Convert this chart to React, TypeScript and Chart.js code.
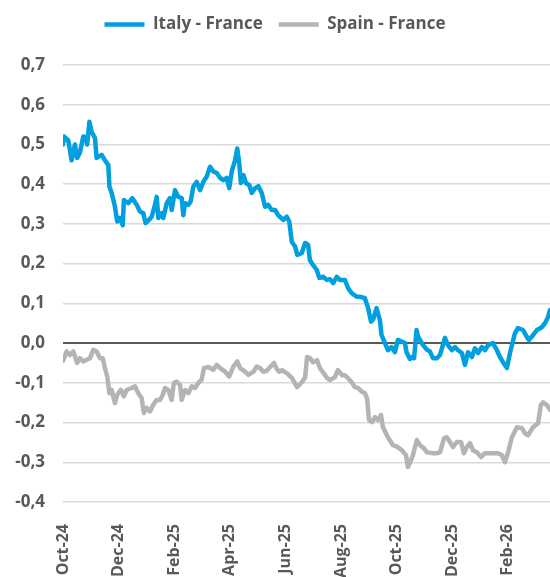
import React, { useEffect, useRef } from 'react';
import { Chart, registerables } from 'chart.js';

Chart.register(...registerables);

// x positions are months elapsed since 1 Oct 2024
const tickMonths = [0, 2, 4, 6, 8, 10, 12, 14, 16];
const tickLabels = ['Oct-24', 'Dec-24', 'Feb-25', 'Apr-25', 'Jun-25', 'Aug-25', 'Oct-25', 'Dec-25', 'Feb-26'];

const italyMonths = [
  0.00, 0.04, 0.19, 0.31, 0.43, 0.51, 0.61, 0.73, 0.83, 0.87, 0.95, 1.03, 1.15, 1.21, 1.39, 1.51, 1.63, 1.67,
  1.75, 1.87, 1.95, 2.05, 2.15, 2.19, 2.35, 2.49, 2.65, 2.77, 2.89, 2.97, 3.09, 3.19, 3.31, 3.37, 3.43, 3.55,
  3.61, 3.73, 3.85, 3.91, 4.03, 4.15, 4.27, 4.33, 4.39, 4.51, 4.59, 4.69, 4.81, 4.93, 5.05, 5.17, 5.29, 5.41,
  5.53, 5.65, 5.77, 5.89, 5.98, 6.07, 6.19, 6.27, 6.34, 6.40, 6.49, 6.58, 6.70, 6.79, 6.91, 7.03, 7.15, 7.27,
  7.38, 7.51, 7.63, 7.74, 7.92, 8.05, 8.14, 8.23, 8.35, 8.43, 8.59, 8.71, 8.82, 8.88, 9.00, 9.13, 9.22, 9.36,
  9.49, 9.60, 9.72, 9.85, 9.96, 10.14, 10.26, 10.38, 10.56, 10.74, 10.86, 10.97, 11.08, 11.16, 11.28, 11.40,
  11.46, 11.51, 11.69, 11.82, 11.94, 12.05, 12.18, 12.30, 12.36, 12.48, 12.58, 12.63, 12.72, 12.77, 12.94,
  13.08, 13.20, 13.31, 13.45, 13.56, 13.74, 13.85, 13.99, 14.10, 14.21, 14.35, 14.46, 14.57, 14.71, 14.82,
  14.93, 15.07, 15.18, 15.29, 15.47, 15.61, 15.72, 15.83, 15.97, 16.08, 16.26, 16.37, 16.55, 16.69, 16.76,
  16.91, 17.05, 17.23, 17.34, 17.45, 17.52,
];
const italyValues = [
  0.500, 0.520, 0.510, 0.460, 0.500, 0.466, 0.480, 0.520, 0.518, 0.500, 0.557, 0.532, 0.516, 0.466, 0.474, 0.460, 0.448, 0.394,
  0.378, 0.343, 0.306, 0.315, 0.297, 0.360, 0.352, 0.365, 0.348, 0.331, 0.327, 0.302, 0.310, 0.318, 0.348, 0.368, 0.315, 0.327,
  0.315, 0.352, 0.365, 0.335, 0.385, 0.368, 0.365, 0.322, 0.352, 0.348, 0.356, 0.394, 0.406, 0.385, 0.406, 0.419, 0.444, 0.432,
  0.428, 0.416, 0.410, 0.416, 0.390, 0.432, 0.460, 0.490, 0.453, 0.403, 0.423, 0.403, 0.398, 0.378, 0.390, 0.395, 0.378, 0.343,
  0.348, 0.335, 0.335, 0.322, 0.310, 0.318, 0.306, 0.255, 0.243, 0.222, 0.227, 0.252, 0.247, 0.209, 0.196, 0.184, 0.164, 0.167,
  0.159, 0.161, 0.151, 0.167, 0.159, 0.159, 0.138, 0.126, 0.117, 0.116, 0.113, 0.090, 0.054, 0.060, 0.088, 0.058,
  0.020, 0.012, -0.018, -0.010, -0.023, 0.008, 0.004, 0.000, -0.023, -0.040, -0.034, -0.038, 0.033, 0.017, -0.004,
  -0.016, -0.021, -0.038, -0.038, -0.030, 0.013, -0.005, -0.018, -0.010, -0.018, -0.025, -0.055, -0.023, -0.035, -0.013,
  -0.025, -0.010, -0.018, -0.005, 0.000, -0.018, -0.035, -0.048, -0.063, -0.025, 0.025, 0.038, 0.033, 0.015, 0.008,
  0.020, 0.033, 0.040, 0.050, 0.066, 0.083,
];

const spainMonths = [
  0.00, 0.04, 0.13, 0.25, 0.37, 0.51, 0.61, 0.73, 0.85, 0.97, 1.09, 1.21, 1.33, 1.43, 1.51, 1.59, 1.67, 1.75,
  1.87, 1.95, 2.08, 2.19, 2.29, 2.47, 2.59, 2.71, 2.83, 2.91, 3.01, 3.13, 3.25, 3.37, 3.49, 3.59, 3.67, 3.79,
  3.91, 3.99, 4.09, 4.21, 4.27, 4.39, 4.51, 4.63, 4.75, 4.87, 4.99, 5.07, 5.23, 5.41, 5.53, 5.65, 5.83, 5.98,
  6.13, 6.27, 6.37, 6.55, 6.67, 6.85, 6.97, 7.09, 7.21, 7.33, 7.45, 7.59, 7.69, 7.78, 7.88, 8.06, 8.24, 8.42,
  8.60, 8.71, 8.78, 8.89, 8.99, 9.14, 9.24, 9.35, 9.50, 9.60, 9.78, 9.89, 10.04, 10.14, 10.25, 10.40, 10.50,
  10.61, 10.76, 10.86, 10.94, 11.01, 11.12, 11.22, 11.33, 11.44, 11.51, 11.69, 11.87, 12.05, 12.19, 12.34,
  12.41, 12.52, 12.59, 12.73, 12.84, 12.99, 13.09, 13.27, 13.45, 13.56, 13.71, 13.81, 13.92, 14.03, 14.17,
  14.32, 14.42, 14.53, 14.64, 14.75, 14.89, 15.04, 15.18, 15.36, 15.54, 15.65, 15.79, 15.90, 16.01, 16.15,
  16.33, 16.51, 16.62, 16.73, 16.91, 17.09, 17.19, 17.27, 17.41, 17.52,
];
const spainValues = [
  -0.045, -0.038, -0.021, -0.030, -0.021, -0.050, -0.038, -0.046, -0.042, -0.038, -0.017, -0.021, -0.038, -0.038, -0.063, -0.084, -0.126, -0.118,
  -0.151, -0.130, -0.118, -0.134, -0.118, -0.113, -0.109, -0.126, -0.139, -0.176, -0.163, -0.172, -0.155, -0.143, -0.143, -0.130, -0.113, -0.118,
  -0.143, -0.100, -0.097, -0.105, -0.143, -0.118, -0.126, -0.109, -0.113, -0.100, -0.092, -0.063, -0.060, -0.067, -0.055, -0.063, -0.072, -0.084,
  -0.059, -0.046, -0.063, -0.072, -0.080, -0.072, -0.059, -0.063, -0.072, -0.070, -0.060, -0.050, -0.065, -0.072, -0.068, -0.076, -0.088, -0.111,
  -0.098, -0.086, -0.035, -0.038, -0.048, -0.043, -0.063, -0.073, -0.088, -0.093, -0.086, -0.068, -0.081, -0.081, -0.088, -0.100, -0.111,
  -0.113, -0.123, -0.126, -0.139, -0.194, -0.199, -0.186, -0.194, -0.181, -0.212, -0.237, -0.257, -0.262, -0.270, -0.282,
  -0.312, -0.295, -0.282, -0.244, -0.257, -0.265, -0.275, -0.277, -0.277, -0.275, -0.239, -0.237, -0.249, -0.262, -0.249,
  -0.249, -0.277, -0.262, -0.252, -0.270, -0.275, -0.287, -0.277, -0.277, -0.277, -0.277, -0.282, -0.300, -0.275, -0.237,
  -0.212, -0.214, -0.227, -0.232, -0.212, -0.202, -0.156, -0.149, -0.156, -0.168,
];

const BLUE = '#009FE0';
const GREY = '#B4B4B4';
const TEXT = '#595959';
const FAMILY = '"Open Sans", "DejaVu Sans", sans-serif';

const legendSpacer = {
  id: 'legendSpacer',
  beforeLayout(chart: any) {
    const lg = chart.legend;
    if (!lg || lg.__patched) return;
    const orig = lg.fit.bind(lg);
    lg.fit = function () {
      orig();
      lg.height = 65;
    };
    lg.__patched = true;
  },
};

export default function App() {
  const ref = useRef<HTMLCanvasElement>(null);

  useEffect(() => {
    if (!ref.current) return;
    const chart = new Chart(ref.current, {
      type: 'line',
      data: {
        datasets: [
          {
            label: 'Italy - France',
            data: italyMonths.map((x, i) => ({ x, y: italyValues[i] })),
            borderColor: BLUE,
            backgroundColor: BLUE,
            borderWidth: 4.5,
            pointRadius: 0,
            tension: 0,
            borderJoinStyle: 'round',
            borderCapStyle: 'round',
          },
          {
            label: 'Spain - France',
            data: spainMonths.map((x, i) => ({ x, y: spainValues[i] })),
            borderColor: GREY,
            backgroundColor: GREY,
            borderWidth: 4.5,
            pointRadius: 0,
            tension: 0,
            borderJoinStyle: 'round',
            borderCapStyle: 'round',
          },
        ],
      },
      options: {
        responsive: false,
        animation: false,
        layout: { padding: 0 },
        plugins: {
          legend: {
            position: 'top',
            labels: {
              usePointStyle: true,
              pointStyle: 'line',
              pointStyleWidth: 40,
              padding: 16,
              color: TEXT,
              font: { family: FAMILY, size: 17, weight: 'bold' },
            },
          },
          tooltip: { enabled: false },
        },
        scales: {
          x: {
            type: 'linear',
            min: 0,
            max: 17.52,
            afterBuildTicks: (s: any) => {
              s.ticks = tickMonths.map((v) => ({ value: v }));
            },
            afterFit: (s: any) => {
              s.height = 75;
            },
            grid: { display: false, drawTicks: false },
            border: { display: false },
            ticks: {
              autoSkip: false,
              maxRotation: 90,
              minRotation: 90,
              padding: 22,
              color: TEXT,
              font: { family: FAMILY, size: 16, weight: 'bold' },
              callback: (v: any) => {
                const i = tickMonths.indexOf(Number(v));
                return i >= 0 ? tickLabels[i] : '';
              },
            },
          },
          y: {
            min: -0.4,
            max: 0.7,
            afterFit: (s: any) => {
              s.width = 63;
            },
            border: { display: false },
            grid: {
              drawTicks: false,
              color: (c: any) => (Math.abs(c.tick?.value ?? 1) < 1e-9 ? '#595959' : '#D9D9D9'),
              lineWidth: (c: any) => (Math.abs(c.tick?.value ?? 1) < 1e-9 ? 2 : 1.5),
            },
            ticks: {
              stepSize: 0.1,
              padding: 18,
              color: TEXT,
              font: { family: FAMILY, size: 17, weight: 'bold' },
              callback: (v: any) => {
                const r = Math.round(Number(v) * 10) / 10;
                if (r === 0) return '0,0';
                return r.toFixed(1).replace('.', ',');
              },
            },
          },
        },
      },
      plugins: [legendSpacer],
    } as any);
    return () => chart.destroy();
  }, []);

  return (
    <div style={{ position: 'absolute', left: 0, top: 0, width: 550, height: 577 }}>
      <canvas ref={ref} width={550} height={577} />
    </div>
  );
}
